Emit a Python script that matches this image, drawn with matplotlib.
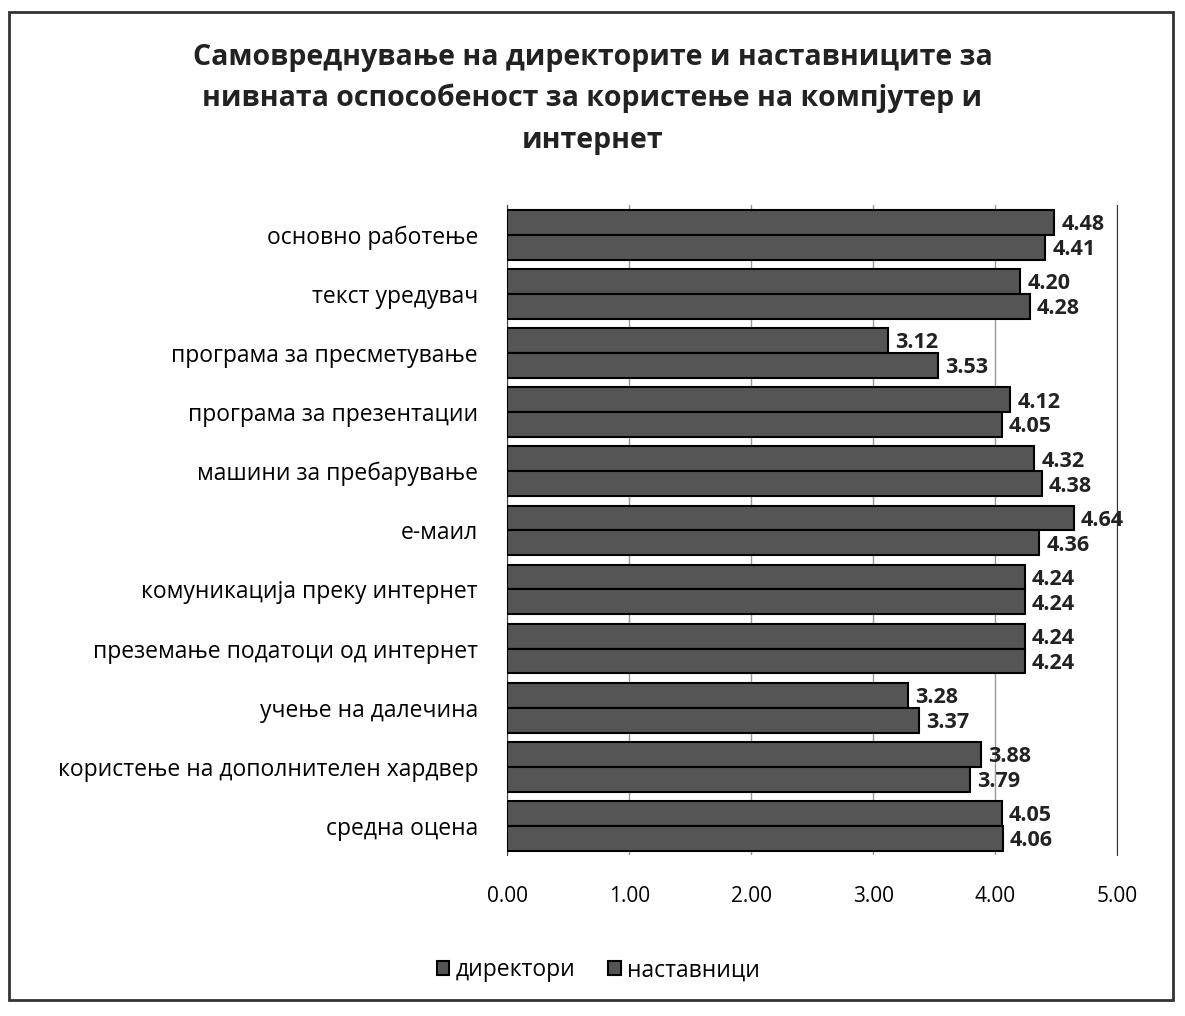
import numpy as np
import matplotlib.pyplot as plt
from matplotlib.patches import Rectangle

plt.rcParams['font.family'] = ['Open Sans', 'DejaVu Sans']

categories = [
    "основно работење",
    "текст уредувач",
    "програма за пресметување",
    "програма за презентации",
    "машини за пребарување",
    "е-маил",
    "комуникација преку интернет",
    "преземање податоци од интернет",
    "учење на далечина",
    "користење на дополнителен хардвер",
    "средна оцена",
]
direktori = [4.48, 4.20, 3.12, 4.12, 4.32, 4.64, 4.24, 4.24, 3.28, 3.88, 4.05]
nastavnici = [4.41, 4.28, 3.53, 4.05, 4.38, 4.36, 4.24, 4.24, 3.37, 3.79, 4.06]
xticks = [0, 1, 2, 3, 4, 5]

BAR = '#555555'

fig = plt.figure(figsize=(11.85, 10.16), dpi=100)
ax = fig.add_axes([0.428, 0.158, 0.515, 0.640])

y = np.arange(len(categories))
h = 0.42
b1 = ax.barh(y - h / 2, direktori, height=h, color=BAR, edgecolor='black',
             linewidth=1.5, label='директори', zorder=3)
b2 = ax.barh(y + h / 2, nastavnici, height=h, color=BAR, edgecolor='black',
             linewidth=1.5, label='наставници', zorder=3)

for yy, v in zip(y, direktori):
    ax.text(v + 0.06, yy - 0.17, f"{v:.2f}", va='center', ha='left',
            fontsize=15.5, fontweight='bold', color='#222222')
for yy, v in zip(y, nastavnici):
    ax.text(v + 0.06, yy + 0.25, f"{v:.2f}", va='center', ha='left',
            fontsize=15.5, fontweight='bold', color='#222222')

ax.set_xlim(0, 5)
ax.set_ylim(len(categories) - 0.5, -0.5)
ax.set_xticks(xticks)
ax.set_xticklabels([f"{t:.2f}" for t in xticks], fontsize=15)
ax.set_yticks(y)
ax.set_yticklabels(categories, fontsize=16.5)
ax.tick_params(axis='both', length=0)
ax.tick_params(axis='x', pad=22)
ax.tick_params(axis='y', pad=21)
ax.grid(axis='x', color='#999999', linewidth=1.0, zorder=0)
for s in ['top', 'bottom']:
    ax.spines[s].set_visible(False)
ax.spines['left'].set_color('#444444')
ax.spines['right'].set_color('#333333')

fig.suptitle("Самовреднување на директорите и наставниците за\n"
             "нивната оспособеност за користење на компјутер и\n"
             "интернет", x=0.50, y=0.958, fontsize=20.5, fontweight='bold',
             color='#222222', linespacing=1.55)

fig.legend(handles=[b1, b2], loc='center', bbox_to_anchor=(0.505, 0.045),
           ncol=2, frameon=False, fontsize=16.5, handlelength=0.55,
           handleheight=0.55, columnspacing=1.4, handletextpad=0.3)

fig.patches.append(Rectangle((0.008, 0.016), 0.982, 0.972, transform=fig.transFigure,
                             fill=False, edgecolor='#333333', linewidth=2))

fig.savefig('out.png', dpi=100, facecolor='white')
